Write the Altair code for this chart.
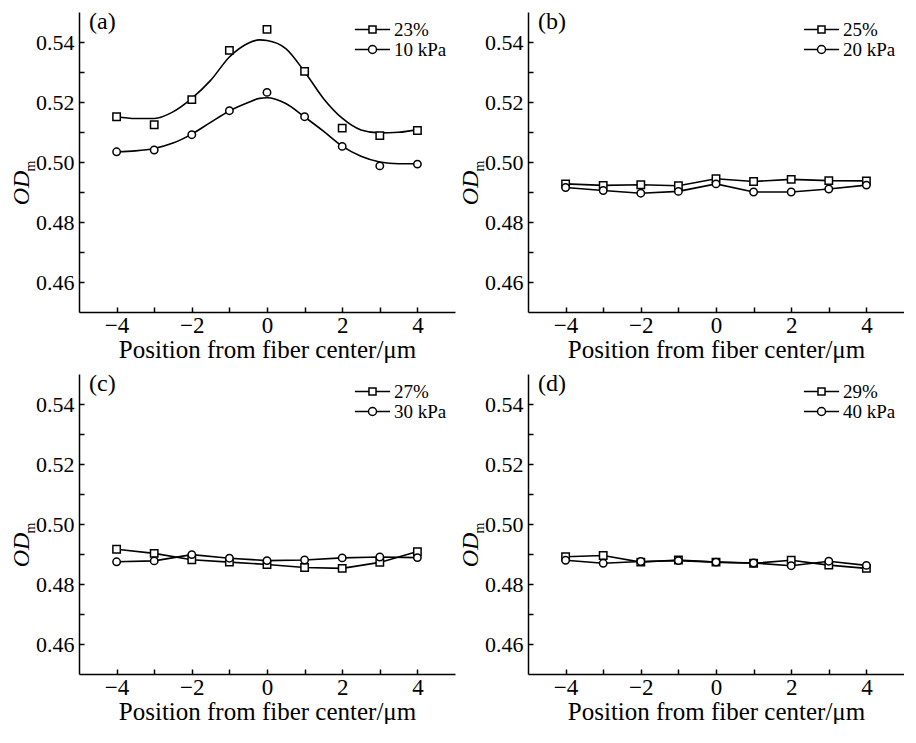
import altair as alt
import pandas as pd

FONT = "Liberation Serif"
W, H = 376, 300

# ---- data ----
x_pos = [-4, -3, -2, -1, 0, 1, 2, 3, 4]

a_sq = [0.5151, 0.5124, 0.5208, 0.5372, 0.5442, 0.5302, 0.5113, 0.5088, 0.5105]
a_ci = [0.5034, 0.5040, 0.5091, 0.5171, 0.5232, 0.5151, 0.5052, 0.4987, 0.4993]
b_sq = [0.4927, 0.4922, 0.4924, 0.4921, 0.4944, 0.4935, 0.4942, 0.4938, 0.4937]
b_ci = [0.4915, 0.4905, 0.4896, 0.4902, 0.4927, 0.4900, 0.4900, 0.4910, 0.4923]
c_sq = [0.4916, 0.4902, 0.4881, 0.4873, 0.4865, 0.4855, 0.4852, 0.4872, 0.4908]
c_ci = [0.4874, 0.4877, 0.4898, 0.4886, 0.4878, 0.4880, 0.4887, 0.4890, 0.4888]
d_sq = [0.4891, 0.4895, 0.4873, 0.4880, 0.4873, 0.4869, 0.4879, 0.4863, 0.4852]
d_ci = [0.4879, 0.4869, 0.4875, 0.4878, 0.4873, 0.4870, 0.4861, 0.4876, 0.4862]

# smooth fitted curves of panel (a)
curve_x = [-4, -3.5, -3, -2.5, -2, -1.5, -1, -0.5, -0.2, 0, 0.5, 1, 1.5, 2, 2.5, 3, 3.5, 4]
a_fit_sq = [0.5151, 0.5145, 0.5145, 0.5167, 0.5212, 0.5272, 0.5350, 0.5396, 0.5407,
            0.5405, 0.5378, 0.5301, 0.5212, 0.5146, 0.5107, 0.5097, 0.5099, 0.5108]
a_fit_ci = [0.5034, 0.5037, 0.5045, 0.5063, 0.5093, 0.5132, 0.5170, 0.5198, 0.5212,
            0.5214, 0.5195, 0.5150, 0.5103, 0.5053, 0.5019, 0.5000, 0.4994, 0.4994]

series_names = [("23%", "10 kPa"), ("25%", "20 kPa"), ("27%", "30 kPa"), ("29%", "40 kPa")]
panel_tags = ["(a)", "(b)", "(c)", "(d)"]

x_label_vals = [-4, -2, 0, 2, 4]
y_label_vals = [0.46, 0.48, 0.50, 0.52, 0.54]
y_tick_vals = [0.46, 0.47, 0.48, 0.49, 0.50, 0.51, 0.52, 0.53, 0.54]
x_title = "Position from fiber center/μm"

# legend symbols: line through a marker
SQ_PATH = "M-2.2,0L-0.44,0M0.44,0L2.2,0M-0.44,-0.44L0.44,-0.44L0.44,0.44L-0.44,0.44Z"
CI_PATH = "M-2.2,0L-0.5,0M0.5,0L2.2,0M0.5,0A0.5,0.5,0,1,1,-0.5,0A0.5,0.5,0,1,1,0.5,0Z"


def panel(tag, names, sq, ci, fit=None):
    pts = pd.DataFrame({
        "x": x_pos + x_pos,
        "y": sq + ci,
        "series": [names[0]] * len(x_pos) + [names[1]] * len(x_pos),
    })
    if fit is not None:
        line_df = pd.DataFrame({
            "x": curve_x + curve_x,
            "y": fit[0] + fit[1],
            "series": [names[0]] * len(curve_x) + [names[1]] * len(curve_x),
        })
        interp = "monotone"
    else:
        line_df = pts
        interp = "linear"

    xscale = alt.Scale(domain=[-5, 5], nice=False, zero=False)
    yscale = alt.Scale(domain=[0.45, 0.55], nice=False, zero=False)

    line = alt.Chart(line_df).mark_line(
        color="black", strokeWidth=1.6, interpolate=interp
    ).encode(
        x=alt.X("x:Q", scale=xscale, axis=alt.Axis(
            orient="bottom", values=x_label_vals, title=x_title, ticks=False, tickSize=0,
            labelPadding=2, titlePadding=0, grid=False, domainColor="black", domainWidth=1.5,
            labelFontSize=23, titleFontSize=25, titleFontWeight="normal",
            labelColor="black", titleColor="black", labelFlush=False,
            labelFont=FONT, titleFont=FONT)),
        y=alt.Y("y:Q", scale=yscale, axis=alt.Axis(
            orient="left", values=y_label_vals, format=".2f", title=None, ticks=False, tickSize=0,
            labelPadding=5, grid=False, domainColor="black", domainWidth=1.5,
            labelFontSize=22, labelColor="black", labelFlush=False, labelFont=FONT)),
        detail="series:N",
    )

    points = alt.Chart(pts).mark_point(
        filled=True, fill="white", stroke="black", strokeWidth=1.5, size=55, opacity=1
    ).encode(
        x=alt.X("x:Q", scale=xscale, axis=alt.Axis(
            orient="top", offset=-H, values=x_pos, labels=False, domain=False,
            tickSize=5, tickWidth=1.5, tickColor="black", grid=False, title=None)),
        y=alt.Y("y:Q", scale=yscale, axis=alt.Axis(
            orient="right", offset=-W, values=y_tick_vals, labels=False, domain=False,
            tickSize=5, tickWidth=1.5, tickColor="black", grid=False, title=None)),
        shape=alt.Shape("series:N", scale=alt.Scale(domain=list(names), range=["square", "circle"]),
                        legend=None),
    )

    # layer with no rows left after the filter: it only supplies the legend
    legend_layer = alt.Chart(pts).transform_filter("datum.x > 100").mark_point(
        filled=False, color="black", strokeWidth=1.5, size=256, opacity=1
    ).encode(
        x=alt.X("x:Q", scale=xscale, axis=None),
        y=alt.Y("y:Q", scale=yscale, axis=None),
        shape=alt.Shape("series:N", scale=alt.Scale(domain=list(names), range=[SQ_PATH, CI_PATH]),
                        legend=alt.Legend(
                            orient="top-right", offset=8, title=None, padding=0, rowPadding=0,
                            labelFont=FONT, labelFontSize=19, labelColor="black",
                            symbolSize=256, labelOffset=12, symbolOpacity=1,
                            symbolStrokeColor="black", symbolStrokeWidth=1.5)),
    )

    tag_df = pd.DataFrame({"t": [tag]})
    tag_text = alt.Chart(tag_df).mark_text(
        align="left", baseline="middle", font=FONT, fontSize=24, color="black"
    ).encode(x=alt.value(10), y=alt.value(10), text="t:N")

    od = alt.Chart(tag_df).mark_text(
        align="center", baseline="middle", font=FONT, fontSize=24, fontStyle="italic",
        color="black", angle=270
    ).encode(x=alt.value(-57), y=alt.value(176), text=alt.value("OD"))
    sub = alt.Chart(tag_df).mark_text(
        align="center", baseline="middle", font=FONT, fontSize=14,
        color="black", angle=270
    ).encode(x=alt.value(-48), y=alt.value(154), text=alt.value("m"))

    return alt.layer(line, points, legend_layer, tag_text, od, sub).resolve_axis(
        x="independent", y="independent"
    ).resolve_scale(shape="independent").properties(width=W, height=H)


pa = panel(panel_tags[0], series_names[0], a_sq, a_ci, fit=(a_fit_sq, a_fit_ci))
pb = panel(panel_tags[1], series_names[1], b_sq, b_ci)
pc = panel(panel_tags[2], series_names[2], c_sq, c_ci)
pd_ = panel(panel_tags[3], series_names[3], d_sq, d_ci)

top = alt.hconcat(pa, pb, spacing=4).resolve_scale(shape="independent")
bottom = alt.hconcat(pc, pd_, spacing=4).resolve_scale(shape="independent")

chart = alt.vconcat(top, bottom, spacing=10).resolve_scale(shape="independent").properties(
    padding={"left": 2, "top": 2, "right": 0, "bottom": 0}
).configure(font=FONT).configure_view(strokeWidth=0).configure_axis(
    labelFont=FONT, titleFont=FONT
).configure_legend(labelFont=FONT)

chart.save("out.html", embed_options={"renderer": "svg", "actions": False})
